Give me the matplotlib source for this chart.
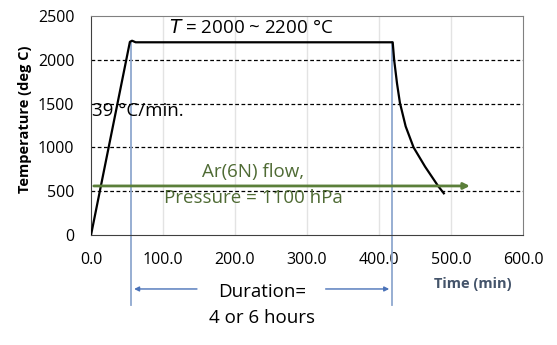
import matplotlib
matplotlib.use('Agg')
import matplotlib.pyplot as plt

plt.rcParams['font.family'] = ['Open Sans', 'DejaVu Sans']

# Heating profile (time in min, temperature in deg C)
time_min = [0, 54, 57, 62, 419, 421, 425, 429, 437, 448, 464, 482, 490]
temp_c = [0, 2205, 2218, 2200, 2200, 2000, 1730, 1510, 1240, 1000, 780, 560, 476]

x_ticks = [0, 100, 200, 300, 400, 500, 600]
y_ticks = [0, 500, 1000, 1500, 2000, 2500]

hold_start = 56
hold_end = 418
gas_level = 560
gas_end = 530

fig = plt.figure(figsize=(5.57, 3.45), dpi=100)
ax = fig.add_axes([0.1634, 0.3188, 0.7756, 0.6348])

ax.set_xlim(0, 600)
ax.set_ylim(0, 2500)
ax.set_xticks(x_ticks)
ax.set_xticklabels(['%.1f' % v for v in x_ticks])
ax.set_yticks(y_ticks)
ax.tick_params(length=0, labelsize=11.5, pad=12)

# gridlines
for v in x_ticks[1:-1]:
    ax.axvline(v, color='#e3e3e3', lw=1, zorder=0)
for v in y_ticks[1:-1]:
    ax.axhline(v, color='black', lw=0.9, ls=(0, (3, 2)), zorder=1)

for side in ['top', 'right']:
    ax.spines[side].set_color('#808080')
for side in ['left', 'bottom']:
    ax.spines[side].set_color('#404040')

# temperature profile
ax.plot(time_min, temp_c, color='black', lw=1.6, zorder=3)

# hold period markers
for t in [hold_start, hold_end]:
    ax.plot([t, t], [-800, 2200], color='#8fa8cf', lw=1.3, clip_on=False, zorder=2)
ax.annotate('', xy=(hold_start, -616), xytext=(151, -616),
            arrowprops=dict(arrowstyle='-|>', color='#4a72b8', lw=1, mutation_scale=7),
            annotation_clip=False)
ax.annotate('', xy=(hold_end, -616), xytext=(322, -616),
            arrowprops=dict(arrowstyle='-|>', color='#4a72b8', lw=1, mutation_scale=7),
            annotation_clip=False)
ax.text(238, -651, 'Duration=', ha='center', va='center', fontsize=13.5, clip_on=False)
ax.text(238, -947, '4 or 6 hours', ha='center', va='center', fontsize=13.5, clip_on=False)

# gas flow arrow
ax.annotate('', xy=(gas_end, gas_level), xytext=(0, gas_level),
            arrowprops=dict(arrowstyle='-|>', color='#5b7f3a', lw=2, mutation_scale=9),
            zorder=4)
ax.text(225, 719, 'Ar(6N) flow,', ha='center', va='center', fontsize=13.5, color='#4f6b34')
ax.text(226, 422, 'Pressure = 1100 hPa', ha='center', va='center', fontsize=13.5, color='#4f6b34')

ax.text(222, 2363, '$\\mathit{T}$ = 2000 ~ 2200 °C', ha='center', va='center', fontsize=13.5)
ax.text(2, 1415, '39 °C/min.', ha='left', va='center', fontsize=13.5)

ax.set_ylabel('Temperature (deg C)', fontsize=10.5, fontweight='bold')
ax.yaxis.set_label_coords(-0.137, 0.53)
ax.text(530, -560, 'Time (min)', ha='center', va='center', fontsize=10.5,
        fontweight='bold', color='#44546a', clip_on=False)

fig.savefig('out.png', dpi=100)
